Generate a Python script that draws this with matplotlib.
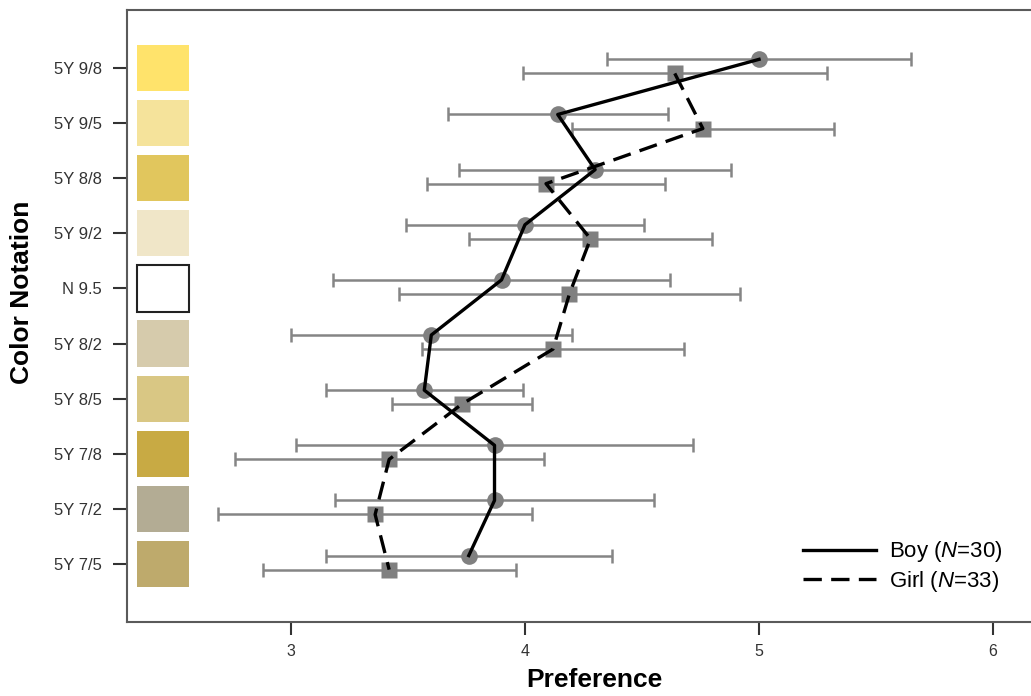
import matplotlib
matplotlib.use("Agg")
import matplotlib.pyplot as plt
import numpy as np

# Fonts: Arial-like text, italic N in the legend via mathtext
plt.rcParams["font.family"] = ["Liberation Sans", "DejaVu Sans"]
plt.rcParams["mathtext.fontset"] = "custom"
plt.rcParams["mathtext.rm"] = "Liberation Sans"
plt.rcParams["mathtext.it"] = "Liberation Sans:italic"

# Color samples (top to bottom)
color_labels = ["5Y 9/8", "5Y 9/5", "5Y 8/8", "5Y 9/2", "N 9.5",
                "5Y 8/2", "5Y 8/5", "5Y 7/8", "5Y 7/2", "5Y 7/5"]
swatch_colors = ["#FFE36B", "#F5E39B", "#E1C65D", "#F0E6C8", "#FFFFFF",
                 "#D6CBAC", "#D9C784", "#C8AA44", "#B3AC94", "#BEAA6C"]

# Mean preference and error (SD) for each group
boy_mean = [5.00, 4.14, 4.30, 4.00, 3.90, 3.60, 3.57, 3.87, 3.87, 3.76]
boy_sd = [0.65, 0.47, 0.58, 0.51, 0.72, 0.60, 0.42, 0.85, 0.68, 0.61]
girl_mean = [4.64, 4.76, 4.09, 4.28, 4.19, 4.12, 3.73, 3.42, 3.36, 3.42]
girl_sd = [0.65, 0.56, 0.51, 0.52, 0.73, 0.56, 0.30, 0.66, 0.67, 0.54]

x_ticks = [3, 4, 5, 6]

fig = plt.figure(figsize=(10.31, 6.96), dpi=100)
ax = fig.add_axes([127 / 1031, 1 - 622 / 696, 934 / 1031, 612 / 696])

y = np.arange(len(color_labels))
y_boy = y - 0.155
y_girl = y + 0.10

# color swatches next to the axis
edges = ["none"] * len(color_labels)
edges[color_labels.index("N 9.5")] = "#222222"
ax.barh(y, 0.222, left=2.342, height=0.84, color=swatch_colors,
        edgecolor=edges, linewidth=1.5, zorder=1)

# error bars
gray = "#858585"
ax.errorbar(boy_mean, y_boy, xerr=boy_sd, fmt="none", ecolor=gray,
            elinewidth=1.8, capsize=5, capthick=1.8, zorder=2)
ax.errorbar(girl_mean, y_girl, xerr=girl_sd, fmt="none", ecolor=gray,
            elinewidth=1.8, capsize=5, capthick=1.8, zorder=2)

# markers
ax.plot(boy_mean, y_boy, "o", ms=12, color="#808080", mec="none", zorder=3)
ax.plot(girl_mean, y_girl, "s", ms=11, color="#808080", mec="none", zorder=3)

# connecting lines
boy_line, = ax.plot(boy_mean, y_boy, color="black", lw=2.4, zorder=4,
                    label="Boy ($\\mathit{N}$=30)")
girl_line, = ax.plot(girl_mean, y_girl, color="black", lw=2.4, zorder=4,
                     dashes=(5.5, 2.8), label="Girl ($\\mathit{N}$=33)")

ax.set_xlim(2.30, 6.29)
ax.set_ylim(10.05, -1.05)
ax.set_xticks(x_ticks)
ax.set_xticklabels([str(t) for t in x_ticks])
ax.set_yticks(y)
ax.set_yticklabels(color_labels)

spine_color = "#5a5a5a"
for side in ["left", "bottom", "top"]:
    ax.spines[side].set_color(spine_color)
    ax.spines[side].set_linewidth(1.5)
ax.spines["right"].set_visible(False)

ax.tick_params(axis="y", length=10, width=1.5, color="#333333",
               labelsize=12, labelcolor="#333333", pad=8)
ax.tick_params(axis="x", length=9, width=1.5, color="#333333",
               labelsize=11.5, labelcolor="#333333", pad=7)

ax.set_xlabel("Preference", fontsize=19, fontweight="bold", va="center")
ax.xaxis.set_label_coords(0.5, -58 / 612)
ax.set_ylabel("Color Notation", fontsize=19, fontweight="bold", va="center")
ax.yaxis.set_label_coords((22 - 127) / 934, (622 - 292) / 612)

ax.legend(handles=[boy_line, girl_line], loc="center",
          bbox_to_anchor=(903 / 1031, 1 - 566.5 / 696),
          bbox_transform=fig.transFigure, frameon=False, fontsize=16,
          handlelength=3.3, handletextpad=0.6, labelspacing=0.2)

fig.savefig("out.png", dpi=100)
